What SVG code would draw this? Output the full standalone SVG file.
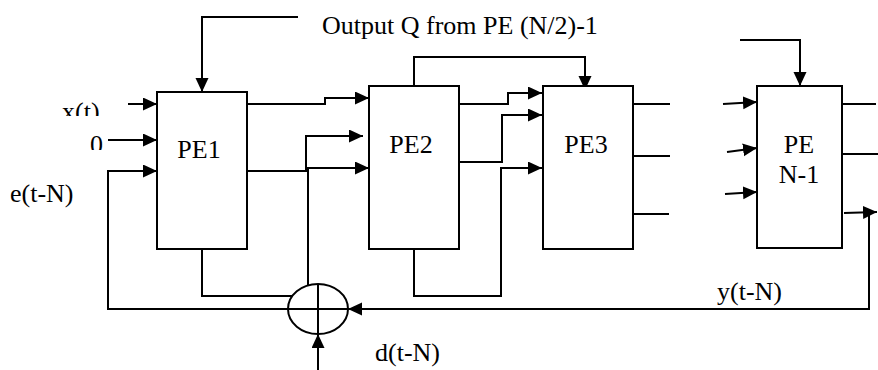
<svg xmlns="http://www.w3.org/2000/svg" width="878" height="370" viewBox="0 0 878 370">
<style>
.box{fill:#fff;stroke:#000;stroke-width:2}
.ln{fill:none;stroke:#000;stroke-width:2}
.ar{fill:none;stroke:#000;stroke-width:2;marker-end:url(#ah)}
.t{font-family:"Liberation Serif","Times New Roman",serif;font-size:26px;fill:#000}
.c{text-anchor:middle}
</style>
<defs>
<marker id="ah" markerUnits="userSpaceOnUse" markerWidth="15" markerHeight="14" refX="14" refY="6.5" orient="auto">
<path d="M0,0 L14,6.5 L0,13 z" fill="#000"/>
</marker>
<clipPath id="clipx"><rect x="0" y="0" width="140" height="116"/></clipPath>
<clipPath id="clip0"><rect x="0" y="120" width="140" height="30"/></clipPath>
</defs>
<rect width="878" height="370" fill="#fff"/>
<g id="connectors">
<path class="ar" d="M298,17 H202 V92"/>
<path class="ar" d="M128,104 H157"/>
<path class="ar" d="M108,140 H157"/>
<path class="ar" d="M288,309 H108 V171 H157"/>
<path class="ar" d="M247,104 H325 V98 H369"/>
<path class="ar" d="M247,171 H306 V136 H363"/>
<path class="ar" d="M308,285 V168 H369"/>
<path class="ln" d="M202,249 V296 H292"/>
<path class="ar" d="M414,86 V57 H585 V90"/>
<path class="ar" d="M459,104 H508 V93 H542"/>
<path class="ar" d="M459,162 H502 V115 H542"/>
<path class="ar" d="M414,249 V296 H501 V168 H542"/>
<path class="ln" d="M633,104 H670 M633,156 H670 M633,214 H669"/>
<path class="ar" d="M740,40 H800 V86"/>
<path class="ar" d="M723,104 L757,102"/>
<path class="ar" d="M727,152 L757,148"/>
<path class="ar" d="M725,194 L757,192"/>
<path class="ln" d="M842,104 H876 M842,154 H878"/>
<path class="ar" d="M844,213 L877,212"/>
<path class="ar" d="M869,213 V309 H348"/>
<path class="ar" d="M318,370 V334"/>
</g>
<g id="adder">
<ellipse class="ln" cx="318" cy="309" rx="30" ry="25"/>
<path class="ln" d="M288,309 H348 M318,284 V334"/>
</g>
<g id="pe1">
<rect class="box" x="157" y="92" width="90" height="157"/>
<text class="t c" x="199" y="158">PE1</text>
</g>
<g id="pe2">
<rect class="box" x="369" y="86" width="90" height="163"/>
<text class="t c" x="411" y="153">PE2</text>
</g>
<g id="pe3">
<rect class="box" x="543" y="86" width="90" height="163"/>
<text class="t c" x="586" y="153">PE3</text>
</g>
<g id="pen1">
<rect class="box" x="757" y="86" width="85" height="162"/>
<text class="t c" x="799" y="153">PE</text>
<text class="t c" x="799" y="183">N-1</text>
</g>
<g id="labels">
<text class="t" x="322" y="34">Output Q from PE (N/2)-1</text>
<text class="t" x="62" y="120" clip-path="url(#clipx)">x(t)</text>
<text class="t" x="90" y="153" clip-path="url(#clip0)">0</text>
<text class="t" x="10" y="202">e(t-N)</text>
<text class="t" x="375" y="361">d(t-N)</text>
<text class="t" x="717" y="300">y(t-N)</text>
</g>
</svg>
